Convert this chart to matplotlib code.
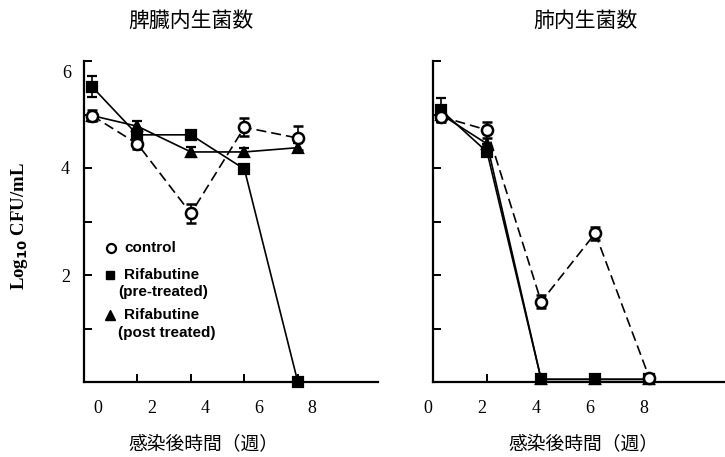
import matplotlib
matplotlib.use("Agg")
import matplotlib.pyplot as plt
from matplotlib.transforms import ScaledTranslation

plt.rcParams['font.family'] = ['Liberation Serif', 'Noto Sans CJK JP']

# weeks after infection
weeks = [0.3, 2, 4, 6, 8]

# spleen (脾臓)
spleen_control = [4.98, 4.45, 3.15, 4.76, 4.56]
spleen_control_err = [0.1, 0.1, 0.17, 0.17, 0.22]
spleen_pre = [5.52, 4.62, 4.62, 3.98, 0.0]
spleen_pre_err = [0.2, 0, 0, 0, 0]
spleen_post = [4.98, 4.78, 4.3, 4.3, 4.38]
spleen_post_err = [0, 0.1, 0.1, 0.08, 0.09]

# lung (肺)
lung_control = [4.96, 4.71, 1.5, 2.78, 0.08]
lung_control_err = [0.1, 0.15, 0.12, 0.12, 0]
lung_pre = [5.08, 4.3, 0.05, 0.05, 0.05]
lung_pre_err = [0.22, 0, 0, 0, 0]
lung_post = [5.0, 4.45, 0.05, 0.05, 0.05]
lung_post_err = [0, 0, 0, 0, 0]

titles = ['脾臓内生菌数', '肺内生菌数']
xlabel = '感染後時間（週）'
ylabel = 'Log$_{\\mathbf{10}}$ CFU/mL'
xticks = [0, 2, 4, 6, 8]
yticks = [1, 2, 3, 4, 5, 6]
ytick_labels = ['', '2', '', '4', '', '']

W, H = 725, 457
fig = plt.figure(figsize=(W / 100, H / 100), dpi=100)

ax1 = fig.add_axes([84 / W, (H - 382) / H, 294 / W, 321 / H])
ax2 = fig.add_axes([433 / W, (H - 382) / H, 292 / W, 321 / H])


def draw_series(ax, x, y, err, marker, mfc, ms):
    ax.errorbar(x, y, yerr=err, color='black', lw=1.2, ls='-',
                marker=marker, ms=ms, mfc=mfc, mec='black', mew=1.6,
                capsize=3.5, capthick=1.4, elinewidth=1.2, clip_on=False, zorder=3)


def panel(ax, ctrl, ctrl_e, pre, pre_e, post, post_e, xmax, label_dx, show_ylabels):
    draw_series(ax, weeks, post, post_e, '^', 'black', 7)
    draw_series(ax, weeks, pre, pre_e, 's', 'black', 6.5)
    ax.errorbar(weeks, ctrl, yerr=ctrl_e, color='black', lw=1.2, ls='--', dashes=(6, 3),
                marker='o', ms=8, mfc='white', mec='black', mew=1.8,
                capsize=3.5, capthick=1.4, elinewidth=1.2, clip_on=False, zorder=4)

    ax.set_xlim(0, xmax)
    ax.set_ylim(0, 6)
    for s in ['top', 'right']:
        ax.spines[s].set_visible(False)
    for s in ['left', 'bottom']:
        ax.spines[s].set_linewidth(1.6)

    ax.set_xticks(xticks)
    ax.set_xticklabels([str(t) for t in xticks], fontsize=13)
    ax.set_yticks(yticks)
    if show_ylabels:
        ax.set_yticklabels(ytick_labels, fontsize=13)
        # the "6" sits a little below its tick in the original
        ax.annotate('6', xy=(0, 6), xycoords=('axes fraction', 'data'),
                    xytext=(-17, -12), textcoords='offset pixels',
                    ha='center', va='center', fontsize=13, annotation_clip=False)
    else:
        ax.set_yticklabels([])
    ax.tick_params(axis='x', direction='in', length=6, width=1.4, pad=13)
    ax.tick_params(axis='y', direction='in', length=6, width=1.4, pad=10)

    off = ScaledTranslation(label_dx / 100, 0, fig.dpi_scale_trans)
    for lbl in ax.get_xticklabels():
        lbl.set_transform(lbl.get_transform() + off)


panel(ax1, spleen_control, spleen_control_err, spleen_pre, spleen_pre_err,
      spleen_post, spleen_post_err, 11.0, 14, True)
panel(ax2, lung_control, lung_control_err, lung_pre, lung_pre_err,
      lung_post, lung_post_err, 10.8, -5, False)

cjk = 'Noto Sans CJK JP'
fig.text(191 / W, 1 - 21 / H, titles[0], ha='center', va='center', fontsize=15, family=cjk)
fig.text(585 / W, 1 - 21 / H, titles[1], ha='center', va='center', fontsize=15, family=cjk)
fig.text(203 / W, 1 - 444 / H, xlabel, ha='center', va='center', fontsize=13.5, family=cjk)
fig.text(583 / W, 1 - 444 / H, xlabel, ha='center', va='center', fontsize=13.5, family=cjk)

fig.text(20 / W, 1 - 226 / H, ylabel, rotation=90, ha='center', va='center',
         fontsize=13.5, fontweight='bold', family='Liberation Serif')

# legend drawn by hand inside the spleen panel
leg_font = dict(fontsize=11, fontweight='bold', family='Liberation Sans',
                va='center', ha='left', transform=ax1.transAxes)
ax1.plot([0.092], [0.417], marker='o', ms=6.5, mfc='white', mec='black', mew=1.6,
         transform=ax1.transAxes, clip_on=False)
ax1.text(0.136, 0.417, 'control', **leg_font)
ax1.plot([0.088], [0.333], marker='s', ms=6, color='black',
         transform=ax1.transAxes, clip_on=False)
ax1.text(0.136, 0.333, 'Rifabutine', **leg_font)
ax1.text(0.116, 0.280, '(pre-treated)', **leg_font)
ax1.plot([0.088], [0.209], marker='^', ms=7, color='black',
         transform=ax1.transAxes, clip_on=False)
ax1.text(0.136, 0.209, 'Rifabutine', **leg_font)
ax1.text(0.116, 0.153, '(post treated)', **leg_font)

fig.savefig('out.png', dpi=100)
